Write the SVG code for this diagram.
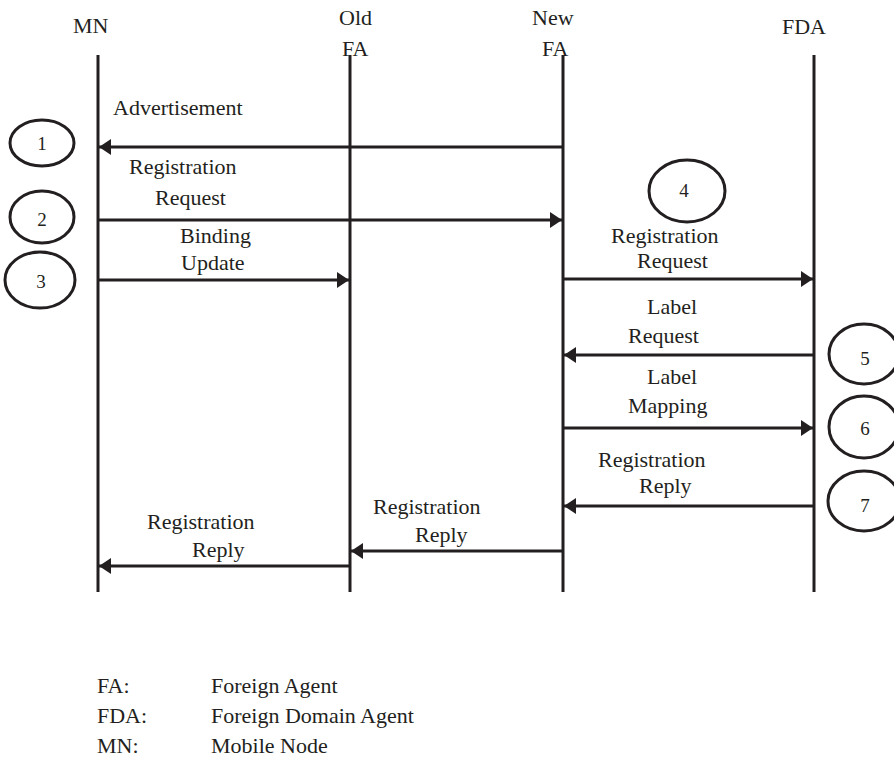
<svg xmlns="http://www.w3.org/2000/svg" width="894" height="769" viewBox="0 0 894 769">
<style>
text{font-family:"Liberation Serif","Times New Roman",serif;font-size:22px;fill:#231f20}
.num{font-size:19px;text-anchor:middle}
.life{stroke:#231f20;stroke-width:3;fill:none}
.msg{stroke:#231f20;stroke-width:3;fill:none;marker-end:url(#ah)}
.step{fill:none;stroke:#231f20;stroke-width:3}
</style>
<defs>
<marker id="ah" markerUnits="userSpaceOnUse" markerWidth="14" markerHeight="16" refX="12" refY="8" orient="auto">
<path d="M0,0 L12,8 L0,16 Z" fill="#231f20"/>
</marker>
</defs>
<rect width="894" height="769" fill="#ffffff"/>

<g id="MN">
<text x="73" y="33">MN</text>
<line class="life" x1="98" y1="55" x2="98" y2="592"/>
</g>
<g id="OldFA">
<text x="339" y="25">Old</text>
<text x="342" y="56">FA</text>
<line class="life" x1="350" y1="55" x2="350" y2="592"/>
</g>
<g id="NewFA">
<text x="532" y="25">New</text>
<text x="542" y="56">FA</text>
<line class="life" x1="563" y1="55" x2="563" y2="592"/>
</g>
<g id="FDA">
<text x="782" y="34">FDA</text>
<line class="life" x1="814" y1="55" x2="814" y2="592"/>
</g>

<g id="connectors">
<path class="msg" d="M563,147 H99"/>
<path class="msg" d="M98,220 H562"/>
<path class="msg" d="M98,280 H349"/>
<path class="msg" d="M563,279 H813"/>
<path class="msg" d="M814,355 H564"/>
<path class="msg" d="M563,428 H813"/>
<path class="msg" d="M814,506 H564"/>
<path class="msg" d="M563,551 H351"/>
<path class="msg" d="M350,566 H99"/>
</g>

<g id="labels">
<text x="113" y="115">Advertisement</text>
<text x="129" y="174">Registration</text>
<text x="155" y="205">Request</text>
<text x="180" y="243">Binding</text>
<text x="181" y="270">Update</text>
<text x="611" y="243">Registration</text>
<text x="637" y="268">Request</text>
<text x="647" y="314">Label</text>
<text x="628" y="343">Request</text>
<text x="647" y="384">Label</text>
<text x="628" y="413">Mapping</text>
<text x="598" y="467">Registration</text>
<text x="639" y="493">Reply</text>
<text x="373" y="514">Registration</text>
<text x="415" y="542">Reply</text>
<text x="147" y="529">Registration</text>
<text x="192" y="557">Reply</text>
</g>

<g id="step1"><ellipse class="step" cx="42" cy="143" rx="32" ry="23"/><text class="num" x="42" y="150">1</text></g>
<g id="step2"><ellipse class="step" cx="42" cy="217" rx="32" ry="26"/><text class="num" x="42" y="226">2</text></g>
<g id="step3"><ellipse class="step" cx="40" cy="280" rx="35" ry="28"/><text class="num" x="41" y="288">3</text></g>
<g id="step4"><ellipse class="step" cx="687" cy="191" rx="38" ry="31"/><text class="num" x="684" y="197">4</text></g>
<g id="step5"><ellipse class="step" cx="864" cy="354" rx="35" ry="30"/><text class="num" x="865" y="365">5</text></g>
<g id="step6"><ellipse class="step" cx="864" cy="427" rx="35" ry="31"/><text class="num" x="865" y="435">6</text></g>
<g id="step7"><ellipse class="step" cx="864" cy="501" rx="36" ry="30"/><text class="num" x="865" y="512">7</text></g>

<g id="legend">
<text x="97" y="693">FA:</text>
<text x="211" y="693">Foreign Agent</text>
<text x="97" y="723">FDA:</text>
<text x="211" y="723">Foreign Domain Agent</text>
<text x="97" y="753">MN:</text>
<text x="211" y="753">Mobile Node</text>
</g>
</svg>
